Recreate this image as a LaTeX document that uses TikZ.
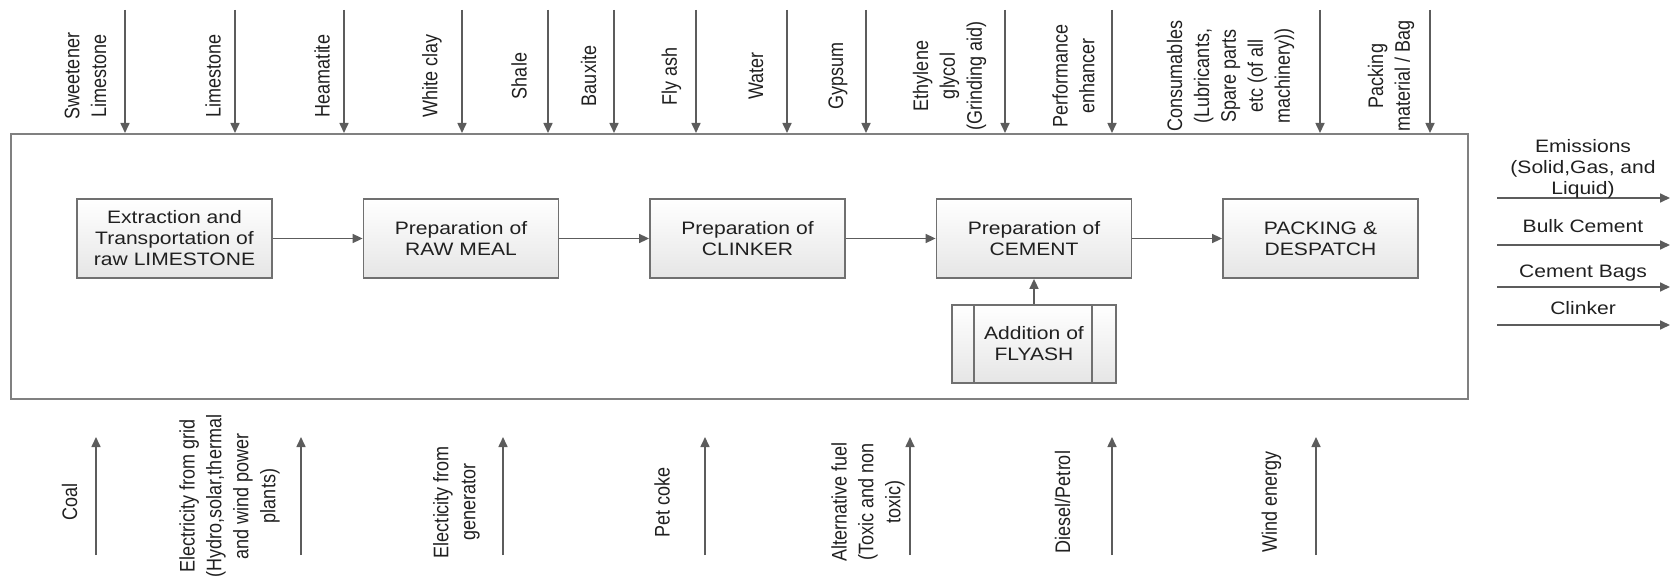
\documentclass[tikz,border=0pt]{standalone}
\usepackage{fontspec}
\setmainfont[FakeStretch=1.17]{Liberation Sans}
\newfontfamily\sidefont{Liberation Sans}
\usetikzlibrary{shapes,arrows.meta}
\definecolor{boxgray}{HTML}{707070}
\definecolor{arrowgray}{HTML}{5C5C5C}
\definecolor{inkgray}{HTML}{202020}
\tikzstyle{block} = [rectangle, draw=boxgray, line width=0.9pt, top color=white,
    bottom color=black!10, text width=90pt, align=center, minimum width=97.5pt,
    minimum height=39.5pt, inner sep=0pt, text=inkgray]
\tikzstyle{line} = [draw=arrowgray, line width=0.8pt, -{Triangle[length=5pt,width=4.5pt]}]
\tikzstyle{feed} = [rotate=90, yscale=1.17, align=center, inner sep=0pt,
    font=\sidefont\fontsize{9}{11.5}\selectfont, text=inkgray]
\tikzstyle{product} = [anchor=south, align=center, inner sep=0pt, text=inkgray]
\tikzstyle{frame} = [draw=black!50, line width=0.9pt]

\begin{document}
\begin{tikzpicture}[x=0.5pt, y=-0.5pt, node distance=143.25pt,
    font=\fontsize{9}{10.5}\selectfont]
    \useasboundingbox (0,0) rectangle (1675,577);
    % Plant boundary
    \draw [frame] (11,134) rectangle (1468,399);
    % Place nodes
    \node [block] (extract) at (174.5,238.5) {Extraction and\\Transportation of\\raw LIMESTONE};
    \node [block, right of=extract] (rawmeal) {Preparation of\\RAW MEAL};
    \node [block, right of=rawmeal] (clinker) {Preparation of\\CLINKER};
    \node [block, right of=clinker] (cement) {Preparation of\\CEMENT};
    \node [block, right of=cement] (packing) {PACKING \&\\DESPATCH};
    \node [block, below of=cement, node distance=52.75pt, minimum width=82pt,
        minimum height=39pt, text width=55pt] (flyash) {Addition of\\FLYASH};
    \draw [draw=boxgray, line width=0.9pt] ([xshift=11.5pt]flyash.north west) -- ([xshift=11.5pt]flyash.south west);
    \draw [draw=boxgray, line width=0.9pt] ([xshift=-12.5pt]flyash.north east) -- ([xshift=-12.5pt]flyash.south east);
    % Draw edges
    \path [line] (extract) -- (rawmeal);
    \path [line] (rawmeal) -- (clinker);
    \path [line] (clinker) -- (cement);
    \path [line] (cement) -- (packing);
    \path [line] (flyash) -- (cement);

    % Raw materials and consumables coming in from the top
    \coordinate (ta1) at (125,10);  \coordinate (tb1) at (125,133);
    \coordinate (ta2) at (235,10);  \coordinate (tb2) at (235,133);
    \coordinate (ta3) at (344,10);  \coordinate (tb3) at (344,133);
    \coordinate (ta4) at (462,10);  \coordinate (tb4) at (462,133);
    \coordinate (ta5) at (548,10);  \coordinate (tb5) at (548,133);
    \coordinate (ta6) at (614,10);  \coordinate (tb6) at (614,133);
    \coordinate (ta7) at (696,10);  \coordinate (tb7) at (696,133);
    \coordinate (ta8) at (787,10);  \coordinate (tb8) at (787,133);
    \coordinate (ta9) at (866,10);  \coordinate (tb9) at (866,133);
    \coordinate (ta10) at (1005,10); \coordinate (tb10) at (1005,133);
    \coordinate (ta11) at (1112,10); \coordinate (tb11) at (1112,133);
    \coordinate (ta12) at (1320,10); \coordinate (tb12) at (1320,133);
    \coordinate (ta13) at (1430,10); \coordinate (tb13) at (1430,133);
    \path [line] (ta1) -- (tb1);
    \path [line] (ta2) -- (tb2);
    \path [line] (ta3) -- (tb3);
    \path [line] (ta4) -- (tb4);
    \path [line] (ta5) -- (tb5);
    \path [line] (ta6) -- (tb6);
    \path [line] (ta7) -- (tb7);
    \path [line] (ta8) -- (tb8);
    \path [line] (ta9) -- (tb9);
    \path [line] (ta10) -- (tb10);
    \path [line] (ta11) -- (tb11);
    \path [line] (ta12) -- (tb12);
    \path [line] (ta13) -- (tb13);
    \node [feed] (sweet) at (85.5,76) {Sweetener\\Limestone};
    \node [feed] (lime) at (213,76) {Limestone};
    \node [feed] (heam) at (322,76) {Heamatite};
    \node [feed] (clay) at (432,76) {White clay};
    \node [feed] (shale) at (519,76) {Shale};
    \node [feed] (baux) at (588.5,76) {Bauxite};
    \node [feed] (ash) at (671.5,76) {Fly ash};
    \node [feed] (water) at (756,76) {Water};
    \node [feed] (gyps) at (838,76) {Gypsum};
    \node [feed] (glycol) at (949.5,76) {Ethylene\\glycol\\(Grinding aid)};
    \node [feed] (perf) at (1073.5,76) {Performance\\enhancer};
    \node [feed] (cons) at (1230.5,76) {Consumables\\(Lubricants,\\Spare parts\\etc (of all\\machinery))};
    \node [feed] (bag) at (1391,76) {Packing\\material / Bag};

    % Energy coming in from the bottom
    \coordinate (ba1) at (96,555);   \coordinate (bb1) at (96,437);
    \coordinate (ba2) at (301,555);  \coordinate (bb2) at (301,437);
    \coordinate (ba3) at (503,555);  \coordinate (bb3) at (503,437);
    \coordinate (ba4) at (705,555);  \coordinate (bb4) at (705,437);
    \coordinate (ba5) at (910,555);  \coordinate (bb5) at (910,437);
    \coordinate (ba6) at (1112,555); \coordinate (bb6) at (1112,437);
    \coordinate (ba7) at (1316,555); \coordinate (bb7) at (1316,437);
    \path [line] (ba1) -- (bb1);
    \path [line] (ba2) -- (bb2);
    \path [line] (ba3) -- (bb3);
    \path [line] (ba4) -- (bb4);
    \path [line] (ba5) -- (bb5);
    \path [line] (ba6) -- (bb6);
    \path [line] (ba7) -- (bb7);
    \node [feed] (coal) at (69.5,502) {Coal};
    \node [feed] (grid) at (229.5,496) {Electricity from grid\\(Hydro,solar,thermal\\and wind power\\plants)};
    \node [feed] (gen) at (456.5,502) {Electicity from\\generator};
    \node [feed] (petcoke) at (662,502) {Pet coke};
    \node [feed] (altfuel) at (868,502) {Alternative fuel\\(Toxic and non\\toxic)};
    \node [feed] (diesel) at (1062.5,502) {Diesel/Petrol};
    \node [feed] (wind) at (1271.5,502) {Wind energy};

    % Products and emissions going out
    \coordinate (oa1) at (1497,198); \coordinate (ob1) at (1670,198);
    \coordinate (oa2) at (1497,245); \coordinate (ob2) at (1670,245);
    \coordinate (oa3) at (1497,287); \coordinate (ob3) at (1670,287);
    \coordinate (oa4) at (1497,325); \coordinate (ob4) at (1670,325);
    \path [line] (oa1) -- (ob1);
    \path [line] (oa2) -- (ob2);
    \path [line] (oa3) -- (ob3);
    \path [line] (oa4) -- (ob4);
    \node [product] (emis) at (1583,199) {Emissions\\(Solid,Gas, and\\Liquid)};
    \node [product] (bulk) at (1583,233) {Bulk Cement};
    \node [product] (bags) at (1583,282) {Cement Bags};
    \node [product] (clink) at (1583,315) {Clinker};
\end{tikzpicture}
\end{document}
